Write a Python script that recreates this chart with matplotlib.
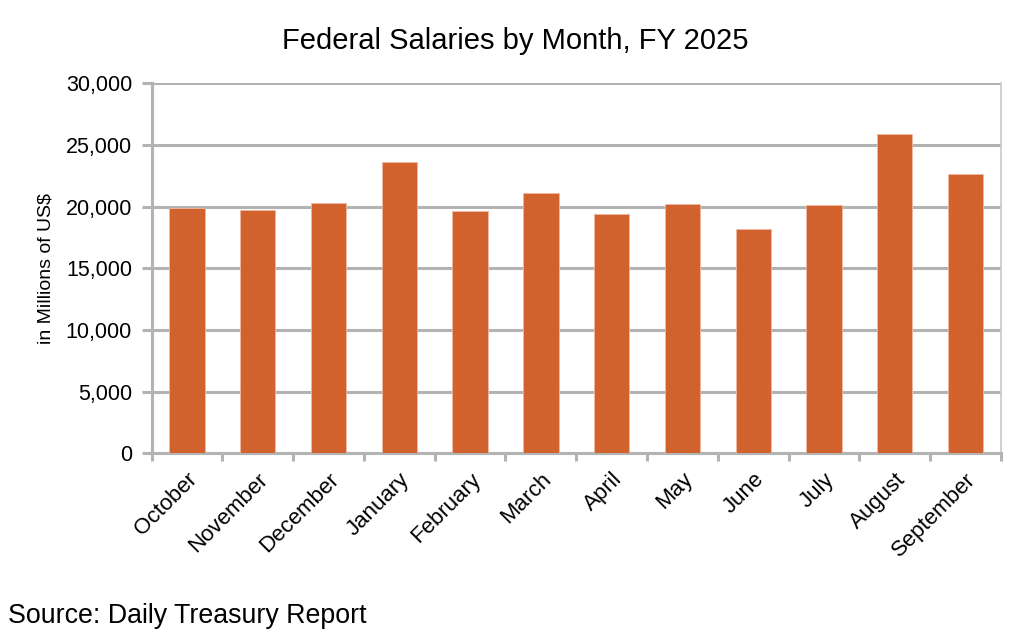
import matplotlib
matplotlib.use("Agg")
import matplotlib.pyplot as plt
import numpy as np
from matplotlib.ticker import FuncFormatter, FixedLocator

months = ["October", "November", "December", "January", "February", "March",
          "April", "May", "June", "July", "August", "September"]
salaries = [19890, 19770, 20340, 23590, 19690, 21070,
            19420, 20210, 18230, 20150, 25860, 22690]
yticks = [0, 5000, 10000, 15000, 20000, 25000, 30000]

plt.rcParams['font.family'] = ['Liberation Sans', 'DejaVu Sans']

fig = plt.figure(figsize=(10.24, 6.33), dpi=100)
ax = fig.add_axes([0.148, 0.2836, 0.8295, 0.5848])

x = np.arange(len(months))
ax.bar(x, salaries, width=0.5, color="#D2622D", edgecolor="#F0B8A0", linewidth=0.6, zorder=3)

grid_c = "#B3B3B3"
ax.set_ylim(0, 30000)
ax.set_xlim(-0.5, len(months) - 0.5)
ax.set_yticks(yticks)
ax.yaxis.set_major_formatter(FuncFormatter(lambda v, p: f"{int(v):,}"))
for y in yticks[1:]:
    ax.axhline(y, color=grid_c, lw=2.2, zorder=1)

ax.set_xticks(x)
ax.set_xticklabels(months, rotation=45, ha="right", va="top", rotation_mode="anchor", fontsize=16)
ax.xaxis.set_minor_locator(FixedLocator(np.arange(-0.5, len(months), 1.0)))
ax.tick_params(axis="x", which="major", length=0, pad=11)
ax.tick_params(axis="x", which="minor", length=6, width=2.2, color=grid_c)
ax.tick_params(axis="y", length=7, width=2.2, color=grid_c, labelsize=15.5, pad=7)

ax.spines["top"].set_visible(False)
ax.spines["left"].set_color(grid_c)
ax.spines["left"].set_linewidth(2.2)
ax.spines["bottom"].set_color(grid_c)
ax.spines["bottom"].set_linewidth(2.2)
ax.spines["right"].set_color("#C8C8C8")
ax.spines["right"].set_linewidth(1.2)

ax.set_ylabel("in Millions of US$", fontsize=14, labelpad=8)

fig.text(0.503, 0.936, "Federal Salaries by Month, FY 2025", ha="center", va="center", fontsize=21)
fig.text(0.008, 0.016, "Source: Daily Treasury Report", ha="left", va="baseline", fontsize=19.3)

fig.savefig("out.png", dpi=100)
